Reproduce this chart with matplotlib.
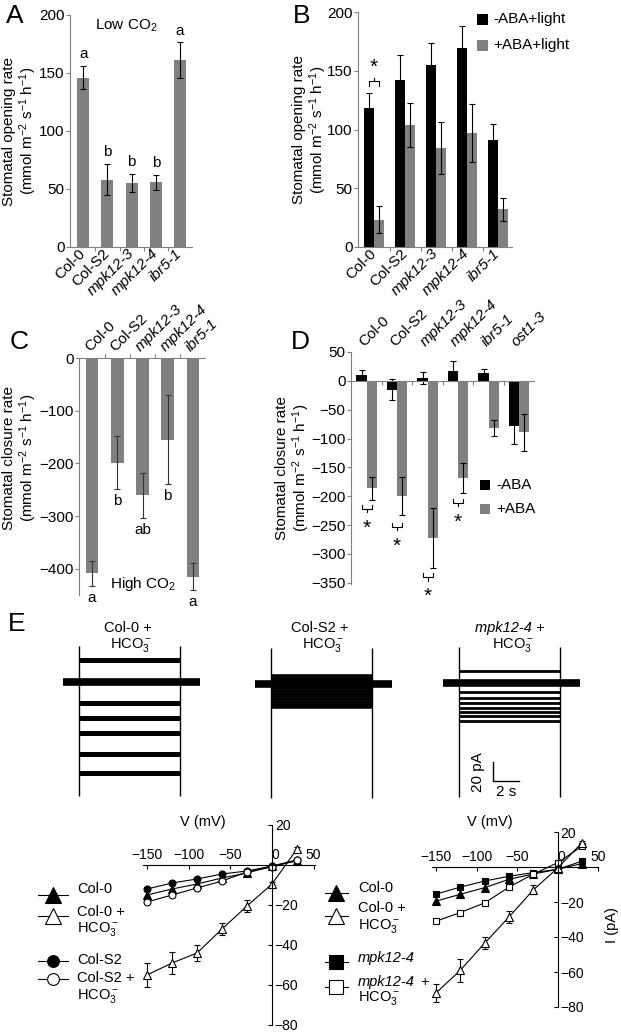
"""Stomatal conductance responses (A-D) and S-type anion currents (E)."""

import matplotlib

matplotlib.use("Agg")
import matplotlib.pyplot as plt
import numpy as np
from matplotlib.lines import Line2D
from matplotlib.patches import Rectangle

plt.rcParams["font.family"] = ["Liberation Sans", "DejaVu Sans"]
plt.rcParams["font.size"] = 11
plt.rcParams["mathtext.fontset"] = "custom"
plt.rcParams["mathtext.rm"] = "Liberation Sans"
plt.rcParams["mathtext.it"] = "Liberation Sans:italic"

W, H = 621, 1032
BAR_GRAY = "#808080"
AXIS_GRAY = "#808080"

# ---- data -----------------------------------------------------------------
GENOTYPES = ["Col-0", "Col-S2", "mpk12-3", "mpk12-4", "ibr5-1"]
D_GENOTYPES = GENOTYPES + ["ost1-3"]
ITALIC = {"mpk12-3", "mpk12-4", "ibr5-1", "ost1-3"}

# A: opening rate at low CO2
a_mean = [146, 58, 55, 56, 161]
a_err = [10, 13.5, 8, 6.5, 15.5]
a_letters = ["a", "b", "b", "b", "a"]

# B: opening rate with / without ABA
b_noaba = [118, 142, 155, 169, 91]
b_noaba_err = [13, 21.5, 19, 19, 14]
b_aba = [23, 104, 84, 97, 32]
b_aba_err = [11.5, 18.5, 22, 25, 9.5]

# C: closure rate at high CO2
c_mean = [-409, -199, -261, -155, -415]
c_err = [24, 50, 43, 85, 26]
c_letters = ["a", "b", "ab", "b", "a"]

# D: closure rate with / without ABA
d_noaba = [10, -15, 5, 17, 13, -78]
d_noaba_err = [8, 18, 11, 17, 7, 31]
d_aba = [-186, -199, -272, -169, -81, -89]
d_aba_err = [20, 33, 52, 26, 14, 32]
d_sig_groups = [0, 1, 2, 3]
d_sig_y = [-222, -253, -340, -211]

# E: whole-cell current traces, steady levels (pA) during the pulse
PULSE = (0.0, 7.8)      # s
HOLD = (-1.25, 9.3)     # s
trace_titles = ["Col-0", "Col-S2", "mpk12-4"]
trace_levels = [
    [23.5, 0, -21.5, -38, -53, -75, -95],
    [8.5, 5, 2, -1, -4, -7, -10, -13, -16, -19, -22, -24],
    [13.3, 0, -9, -15, -21, -26, -30, -34, -40],
]
trace_lw = [3.6, 2.6, 2.0]
SCALE_PA, SCALE_S = 20, 2

# E: I-V curves
V = [-150, -120, -90, -60, -30, 0, 30]
iv1_col0 = [-15, -12, -9.5, -6.5, -4, -0.5, 2]
iv1_col0_hco3 = [-55, -49, -44, -32, -20.5, -9.5, 8]
iv1_col0_hco3_err = [6, 5.5, 4, 3, 3, 1, 1]
iv1_cols2 = [-12, -9, -7, -4.5, -3, -0.5, 2.5]
iv1_cols2_hco3 = [-18.5, -15, -11.5, -8, -3.5, -1, 2.5]

iv2_col0 = [-19.5, -15.6, -11.8, -7, -4, -1.3, 2]
iv2_col0_hco3 = [-72, -59, -43.5, -28.5, -13, -0.5, 14]
iv2_col0_hco3_err = [5, 6.5, 3.5, 3.5, 2.5, 1, 1]
iv2_mpk = [-15.5, -11.5, -8, -5.3, -3.2, -1.3, 3.4]
iv2_mpk_hco3 = [-31, -26, -20.5, -11.5, -4, 2.5, 12]

HCO3 = "HCO$_3^-$"
YLAB_OPEN = "Stomatal opening rate\n(mmol m$^{-2}$ s$^{-1}$ h$^{-1}$)"
YLAB_CLOSE = "Stomatal closure rate\n(mmol m$^{-2}$ s$^{-1}$ h$^{-1}$)"


def rect(left, top, right, bottom):
    """Pixel box -> figure fraction rect."""
    return [left / W, 1 - bottom / H, (right - left) / W, (bottom - top) / H]


def bar_axes(ax, n):
    for side in ("top", "right", "bottom", "left"):
        ax.spines[side].set_color(AXIS_GRAY)
    ax.spines["right"].set_visible(False)
    ax.tick_params(axis="y", length=3, width=0.8, pad=1, color=AXIS_GRAY)
    ax.set_xticks(np.arange(n))
    ax.set_xticks(np.arange(n - 1) + 0.5, minor=True)
    ax.tick_params(axis="x", which="major", length=0, pad=3)
    ax.tick_params(axis="x", which="minor", length=3, width=0.8,
                   color=AXIS_GRAY)
    ax.patch.set_visible(False)


def italicise(labels):
    for lab in labels:
        if lab.get_text() in ITALIC:
            lab.set_fontstyle("italic")


def ylabel_at(ax, text, right_px, frac=0.5):
    """Place a two-line y label so its right edge sits at right_px."""
    ax.set_ylabel(text, linespacing=1.1)
    left, _, width, _ = ax.get_position().bounds
    ax.yaxis.set_label_coords((right_px / W - left) / width, frac)


ERR = dict(ecolor="black", elinewidth=0.8, capsize=2.5, capthick=0.8)

fig = plt.figure(figsize=(W / 100, H / 100), dpi=100)

# ---- A --------------------------------------------------------------------
ax = fig.add_axes(rect(70, 15, 192, 247))
x = np.arange(len(GENOTYPES))
ax.bar(x, a_mean, width=0.5, color=BAR_GRAY, yerr=a_err, error_kw=ERR)
ax.set_xlim(-0.55, 4.5)
ax.set_ylim(0, 200)
bar_axes(ax, len(GENOTYPES))
ax.spines["top"].set_visible(False)
ax.set_yticks([0, 50, 100, 150, 200])
ax.set_xticklabels(GENOTYPES, rotation=45, ha="right", va="center",
                   rotation_mode="anchor")
italicise(ax.get_xticklabels())
for xi, m, e, let in zip(x, a_mean, a_err, a_letters):
    ax.text(xi, m + e + 4, let, ha="center", va="bottom")
ax.text(1.8, 191, "Low CO$_2$", ha="center", va="center")
ylabel_at(ax, YLAB_OPEN, 39)

# ---- B --------------------------------------------------------------------
ax = fig.add_axes(rect(358, 12, 512, 247))
off, bw = 0.16, 0.32
ax.bar(x - off, b_noaba, width=bw, color="black", yerr=b_noaba_err,
       error_kw=ERR)
ax.bar(x + off, b_aba, width=bw, color=BAR_GRAY, yerr=b_aba_err,
       error_kw=ERR)
ax.set_xlim(-0.52, 4.45)
ax.set_ylim(0, 200)
bar_axes(ax, len(GENOTYPES))
ax.spines["top"].set_visible(False)
ax.set_yticks([0, 50, 100, 150, 200])
ax.set_xticklabels(GENOTYPES, rotation=45, ha="right", va="center",
                   rotation_mode="anchor")
italicise(ax.get_xticklabels())
# bracket + asterisk over Col-0
yb = 141
ax.plot([-off, -off, off, off], [yb - 4, yb, yb, yb - 4], color="black",
        lw=0.8)
ax.plot([0, 0], [yb, yb + 3], color="black", lw=0.8)
ax.text(0, yb + 4, "*", ha="center", va="bottom", fontsize=15)
ylabel_at(ax, YLAB_OPEN, 329)

# ---- C --------------------------------------------------------------------
ax = fig.add_axes(rect(79, 358, 205, 595))
ax.bar(x, c_mean, width=0.5, color=BAR_GRAY, yerr=c_err,
       error_kw=dict(ERR, ecolor="#333333"))
ax.set_xlim(-0.52, 4.48)
ax.set_ylim(-450, 0)
bar_axes(ax, len(GENOTYPES))
ax.spines["bottom"].set_visible(False)
ax.xaxis.set_ticks_position("top")
ax.tick_params(axis="x", which="minor", direction="out")
ax.set_yticks([0, -100, -200, -300, -400])
ax.set_xticklabels(GENOTYPES, rotation=45, ha="left", va="bottom",
                   rotation_mode="anchor")
italicise(ax.get_xticklabels())
for xi, m, e, let in zip(x, c_mean, c_err, c_letters):
    ax.text(xi, m - e - 22, let, ha="center", va="center")
ax.text(2.02, -429, "High CO$_2$", ha="center", va="center")
ylabel_at(ax, YLAB_CLOSE, 39, 0.58)

# ---- D --------------------------------------------------------------------
ax = fig.add_axes(rect(351, 352, 534, 584))
xd = np.arange(len(D_GENOTYPES))
off, bw = 0.165, 0.33
ax.bar(xd - off, d_noaba, width=bw, color="black", yerr=d_noaba_err,
       error_kw=ERR)
ax.bar(xd + off, d_aba, width=bw, color=BAR_GRAY, yerr=d_aba_err,
       error_kw=ERR)
ax.set_xlim(-0.51, 5.49)
ax.set_ylim(-352, 50)
bar_axes(ax, len(D_GENOTYPES))
ax.spines["top"].set_visible(False)
ax.spines["bottom"].set_position(("data", 0))
ax.tick_params(axis="x", which="major", labeltop=True, labelbottom=False,
               top=False, bottom=False, pad=2)
ax.set_yticks(np.arange(-350, 51, 50))
ax.set_xticklabels(D_GENOTYPES, rotation=45, ha="left", va="bottom",
                   rotation_mode="anchor")
italicise(ax.get_xticklabels())
for g, yb in zip(d_sig_groups, d_sig_y):
    ax.plot([g - off, g - off, g + off, g + off], [yb + 7, yb, yb, yb + 7],
            color="black", lw=0.8)
    ax.plot([g, g], [yb, yb - 6], color="black", lw=0.8)
    ax.text(g, yb - 34, "*", ha="center", va="center", fontsize=15)
ylabel_at(ax, YLAB_CLOSE, 312)

# ---- E: current traces ----------------------------------------------------
PX_PER_S, PX_PER_PA = 13.0, 0.951
XL = (-1.5, 9.6)
YL = (-123, 40)
trace_left = [79, 271, 459]
trace_base = [682.3, 684, 683.3]
trace_axes = []
for left, base, levels, lw in zip(trace_left, trace_base, trace_levels,
                                  trace_lw):
    l0 = left + XL[0] * PX_PER_S
    r0 = left + XL[1] * PX_PER_S
    t0 = base - YL[1] * PX_PER_PA
    b0 = base - YL[0] * PX_PER_PA
    tax = fig.add_axes(rect(l0, t0, r0, b0))
    tax.set_xlim(*XL)
    tax.set_ylim(*YL)
    tax.axis("off")
    tax.hlines(0, HOLD[0], HOLD[1], color="black", lw=5.5)
    tax.hlines(levels, PULSE[0], PULSE[1], color="black", lw=lw)
    tax.vlines(PULSE, -120, 38, color="black", lw=1.0)
    trace_axes.append(tax)

# scale bar on the mpk12-4 traces
tax = trace_axes[2]
sx, sy = 2.6, -103
tax.plot([sx, sx, sx + SCALE_S], [sy + SCALE_PA, sy, sy], color="black",
         lw=1.0)
tax.text(sx - 0.6, sy + SCALE_PA / 2, f"{SCALE_PA} pA", rotation=90,
         ha="right", va="center")
tax.text(sx + SCALE_S / 2, sy - 4, f"{SCALE_S} s", ha="center", va="top")


# ---- E: I-V curves --------------------------------------------------------
def iv_axes(box, xlim):
    iax = fig.add_axes(rect(*box))
    iax.set_xlim(*xlim)
    iax.set_ylim(-80, 20)
    iax.patch.set_visible(False)
    iax.spines["left"].set_visible(False)
    iax.spines["bottom"].set_visible(False)
    iax.spines["right"].set_position(("data", 0))
    iax.spines["top"].set_position(("data", 0))
    iax.xaxis.set_ticks_position("top")
    iax.yaxis.set_ticks_position("right")
    iax.set_xticks([-150, -100, -50, 0, 50])
    iax.set_yticks([20, -20, -40, -60, -80])
    iax.tick_params(length=3, width=0.8, direction="in", pad=2,
                    labelsize=10)
    for lab in iax.get_xticklabels():
        if lab.get_text() in ("0", "\u22120"):
            lab.set_ha("left")
    return iax


MK = dict(color="black", lw=0.8, mew=0.8, mec="black")

iax = iv_axes((272 - 155 * 0.833, 825, 272 + 52 * 0.833, 1025), (-155, 52))
iax.plot(V, iv1_col0, marker="^", ms=5.5, mfc="black", **MK)
iax.plot(V, iv1_cols2, marker="o", ms=5, mfc="black", **MK)
iax.plot(V, iv1_cols2_hco3, marker="o", ms=5, mfc="white", **MK)
iax.errorbar(V, iv1_col0_hco3, yerr=iv1_col0_hco3_err, marker="^", ms=5.5,
             mfc="white", capsize=2, elinewidth=0.8, capthick=0.8, **MK)

iax = iv_axes((561 - 155 * 0.833, 832, 561 + 45 * 0.833, 1007), (-155, 45))
iax.plot(V, iv2_col0, marker="^", ms=5.5, mfc="black", **MK)
iax.plot(V, iv2_mpk, marker="s", ms=5, mfc="black", **MK)
iax.plot(V, iv2_mpk_hco3, marker="s", ms=5, mfc="white", **MK)
iax.errorbar(V, iv2_col0_hco3, yerr=iv2_col0_hco3_err, marker="^", ms=5.5,
             mfc="white", capsize=2, elinewidth=0.8, capthick=0.8, **MK)

# ---- overlay in pixel space: panel letters, legends, titles ---------------
lay = fig.add_axes([0, 0, 1, 1])
lay.set_xlim(0, W)
lay.set_ylim(H, 0)
lay.axis("off")

for letter, (lx, ly) in zip("ABCDE", [(15, 16), (302, 16), (19, 342),
                                      (300, 342), (17, 624)]):
    lay.text(lx, ly, letter, fontsize=19, ha="center", va="center")

# legend B
for yk, col, lab in [(19.5, "black", "-ABA+light"),
                     (45.5, BAR_GRAY, "+ABA+light")]:
    lay.add_patch(Rectangle((477, yk - 5.5), 11, 11, color=col, lw=0))
    lay.text(493, yk, lab, va="center", ha="left")
# legend D
for yk, col, lab in [(485, "black", "-ABA"), (509, BAR_GRAY, "+ABA")]:
    lay.add_patch(Rectangle((480, yk - 5), 10, 10, color=col, lw=0))
    lay.text(496, yk, lab, va="center", ha="left")

# trace titles
for tx, name in zip([128, 320, 510], trace_titles):
    style = "italic" if name in ITALIC else "normal"
    lay.text(tx, 628, name + " +", ha="center", va="center", fontsize=10.5,
             fontstyle=style)
    lay.text(tx + 3, 645, HCO3, ha="center", va="center", fontsize=10.5)

# axis titles of the I-V plots
lay.text(203, 822, "V (mV)", ha="center", va="center", fontsize=10.5)
lay.text(490, 822, "V (mV)", ha="center", va="center", fontsize=10.5)
lay.text(612, 925, "I (pA)", ha="center", va="center", fontsize=10.5,
         rotation=90)


def legend_key(xc, half, yk, marker, mfc, ms):
    lay.add_line(Line2D([xc - half, xc + half], [yk, yk], color="black",
                        lw=0.8))
    lay.add_line(Line2D([xc], [yk], marker=marker, ms=ms, mfc=mfc,
                        mec="black", mew=0.8, color="black"))


# left I-V legend
legend_key(53, 15, 895, "^", "black", 11)
legend_key(53, 15, 916, "^", "white", 11)
legend_key(53, 15, 961, "o", "black", 8.5)
legend_key(53, 15, 979, "o", "white", 8.5)
for ty, txt in [(889, "Col-0"), (912, "Col-0 +"), (929, HCO3),
                (960, "Col-S2"), (978, "Col-S2 +"), (996, HCO3)]:
    lay.text(77, ty, txt, ha="left", va="center", fontsize=10.5)

# right I-V legend
legend_key(336, 11.5, 893, "^", "black", 11)
legend_key(336, 11.5, 916, "^", "white", 11)
legend_key(336, 11.5, 962, "s", "black", 9.5)
legend_key(336, 11.5, 987, "s", "white", 9.5)
for ty, txt, st in [(888, "Col-0", "normal"), (908, "Col-0 +", "normal"),
                    (926, HCO3, "normal"), (958, "mpk12-4", "italic"),
                    (982, "mpk12-4", "italic"), (998, HCO3, "normal")]:
    lay.text(358, ty, txt, ha="left", va="center", fontsize=10.5,
             fontstyle=st)
lay.text(420, 982, "+", ha="left", va="center", fontsize=10.5)

fig.savefig("out.png", dpi=100)
